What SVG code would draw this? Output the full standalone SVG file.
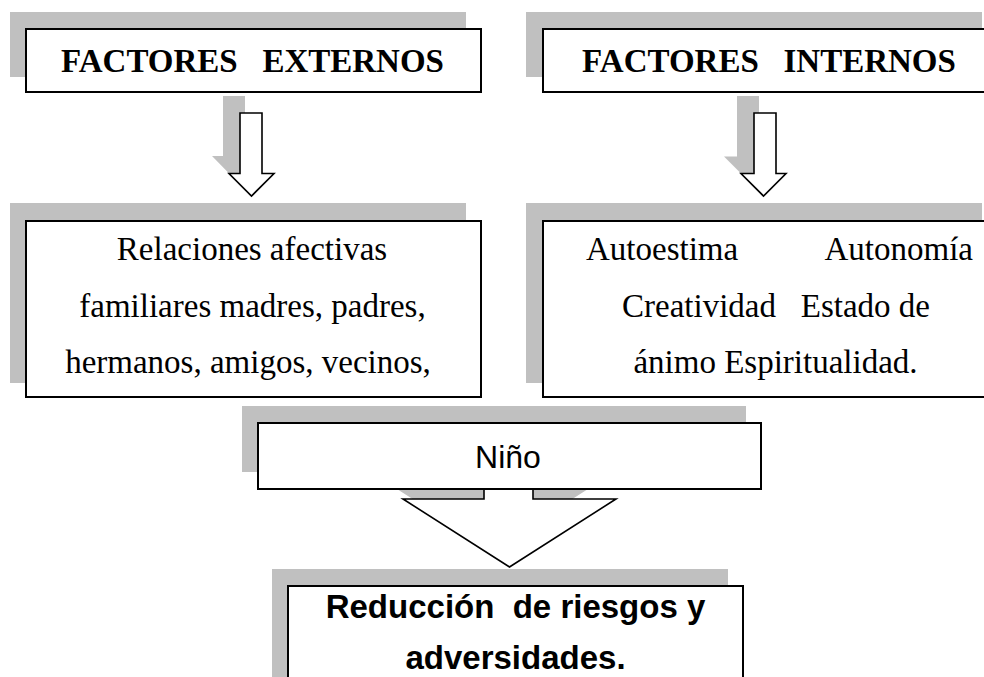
<svg xmlns="http://www.w3.org/2000/svg" width="984" height="677" viewBox="0 0 984 677">
<style>
.bg{fill:#ffffff}
.shadow{fill:#c0c0c0;stroke:none}
.box{fill:#ffffff;stroke:#000000;stroke-width:2}
.arrow{fill:#ffffff;stroke:#000000;stroke-width:1.6;stroke-linejoin:miter}
.serif{font-family:"Liberation Serif","Times New Roman",serif;font-size:33px;fill:#000}
.serifb{font-family:"Liberation Serif","Times New Roman",serif;font-size:33px;font-weight:bold;fill:#000}
.sans{font-family:"Liberation Sans",Arial,sans-serif;font-size:32px;fill:#000}
.sansb{font-family:"Liberation Sans",Arial,sans-serif;font-size:33px;font-weight:bold;fill:#000}
</style>
<rect class="bg" x="0" y="0" width="984" height="677"/>
<g id="connectors">
  <g id="arrow-externos">
    <polygon class="shadow" points="223,96 245,96 245,156 257,156 234.5,179 212,156 223,156"/>
    <polygon class="arrow" points="240,113 262,113 262,173.5 274,173.5 251.5,196 229,173.5 240,173.5"/>
  </g>
  <g id="arrow-internos">
    <polygon class="shadow" points="737,96 759,96 759,156.5 769,156.5 746.5,179 724,156.5 737,156.5"/>
    <polygon class="arrow" points="754,113 776,113 776,173.5 786,173.5 763.5,196 741,173.5 754,173.5"/>
  </g>
  <g id="arrow-nino">
    <polygon class="shadow" points="467,461 516,461 516,482 599,482 492.5,550 386,482 467,482"/>
    <polygon class="arrow" points="484,478 533,478 533,499 616,499 509.5,567 403,499 484,499"/>
  </g>
</g>
<g id="n-externos">
  <rect class="shadow" x="10" y="12" width="456" height="65"/>
  <rect class="box" x="26" y="29" width="455" height="63"/>
  <text class="serifb" x="252.5" y="72" text-anchor="middle" xml:space="preserve">FACTORES   EXTERNOS</text>
</g>
<g id="n-internos">
  <rect class="shadow" x="526" y="12" width="456" height="65"/>
  <rect class="box" x="543" y="29" width="455" height="63"/>
  <text class="serifb" x="769" y="72" text-anchor="middle" xml:space="preserve">FACTORES   INTERNOS</text>
</g>
<g id="n-relaciones">
  <rect class="shadow" x="10" y="203" width="456" height="180"/>
  <rect class="box" x="26" y="221" width="455" height="176"/>
  <text class="serif" x="252" y="260" text-anchor="middle">Relaciones afectivas</text>
  <text class="serif" x="252.5" y="317" text-anchor="middle">familiares madres, padres,</text>
  <text class="serif" x="248" y="373" text-anchor="middle">hermanos, amigos, vecinos,</text>
</g>
<g id="n-autoestima">
  <rect class="shadow" x="526" y="203" width="456" height="180"/>
  <rect class="box" x="543" y="221" width="455" height="176"/>
  <text class="serif" x="586" y="260">Autoestima</text>
  <text class="serif" x="973" y="260" text-anchor="end">Autonomía</text>
  <text class="serif" x="776" y="317" text-anchor="middle" xml:space="preserve">Creatividad   Estado de</text>
  <text class="serif" x="775.5" y="373" text-anchor="middle">ánimo Espiritualidad.</text>
</g>
<g id="n-nino">
  <rect class="shadow" x="242" y="406" width="504" height="66"/>
  <rect class="box" x="258" y="423" width="503" height="66"/>
  <text class="sans" x="508" y="468" text-anchor="middle">Niño</text>
</g>
<g id="n-reduccion">
  <rect class="shadow" x="272" y="569" width="456" height="120"/>
  <rect class="box" x="288" y="586" width="455" height="110"/>
  <text class="sansb" x="515.5" y="618" text-anchor="middle" xml:space="preserve">Reducción  de riesgos y</text>
  <text class="sansb" x="515.5" y="669" text-anchor="middle">adversidades.</text>
</g>
</svg>
